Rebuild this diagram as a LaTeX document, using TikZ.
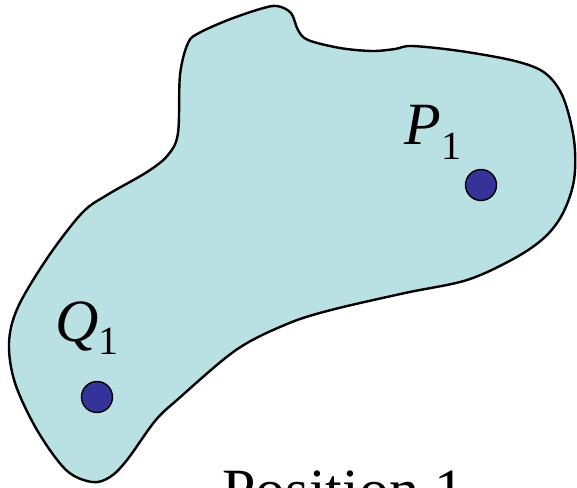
\documentclass[tikz,border=0pt]{standalone}
\usepackage{fontspec}
\setmainfont{Liberation Serif}
\definecolor{blobfill}{RGB}{185,224,227}
\definecolor{dotblue}{RGB}{51,51,153}

\begin{document}
\begin{tikzpicture}[x=0.5pt, y=-0.5pt, line join=round,
    pointdot/.style={circle, draw=black, line width=0.7pt, fill=dotblue, minimum size=15.5pt, inner sep=0pt},
    lbl/.style={anchor=base west, inner sep=0pt, font=\fontsize{30}{36}\selectfont}]
  \useasboundingbox (0,0) rectangle (577,487);
  % the body
  \draw[line width=1.2pt, fill=blobfill] plot[smooth cycle, tension=0.55] coordinates {
    (277,6) (291,13) (298,30) (308,40) (340,48) (372,51) (395,49) (412,46)
    (460,51) (515,61) (545,73) (563,97) (574,140) (574,180) (563,213)
    (545,237) (515,258) (467,280) (405,293) (331,310) (287,324) (236,350)
    (177,400) (155,421) (127,460) (110,477) (92,482) (66,470) (37,430)
    (15,383) (9,343) (18,307) (48,257) (82,213) (107,195) (147,172)
    (168,155) (178,133) (180,75) (188,43) (199,33) (228,20) (260,9)};
  % points and labels
  \node[pointdot] (P1) at (481,185) {};
  \node[pointdot] (Q1) at (97,397) {};
  \node[lbl] (P1label) at (404,144) {\textit{P}\raisebox{-7.5pt}{\fontsize{20}{24}\selectfont 1}};
  \node[lbl] (Q1label) at (55,341) {\textit{Q}\raisebox{-6.5pt}{\fontsize{20}{24}\selectfont 1}};
  \node[lbl] (caption) at (222,510) {Position 1};
\end{tikzpicture}
\end{document}
